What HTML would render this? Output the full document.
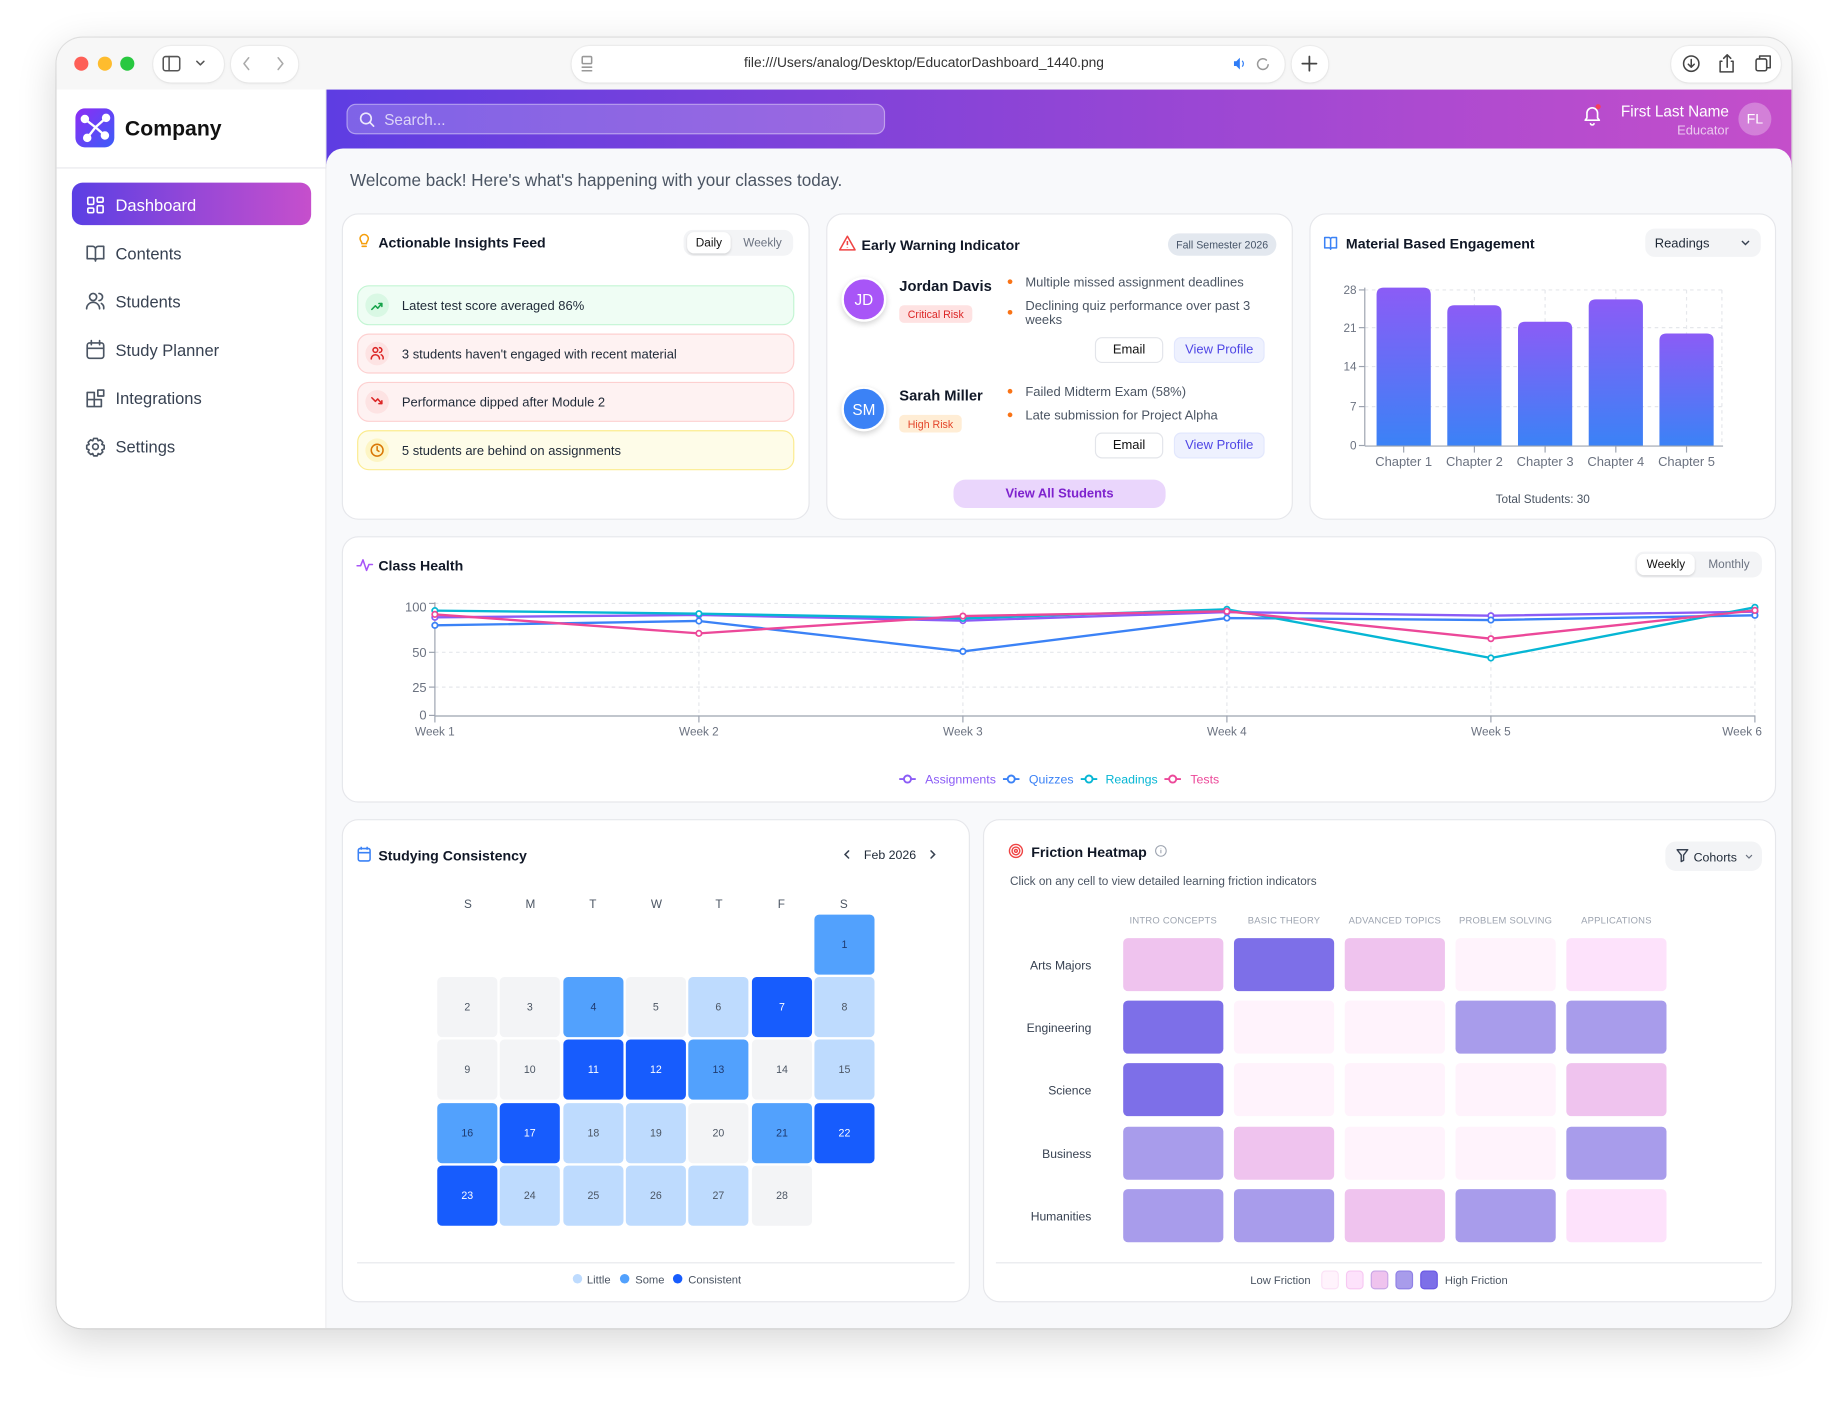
<!DOCTYPE html>
<html><head><meta charset="utf-8">
<style>
*{box-sizing:border-box;}
html,body{margin:0;padding:0;background:#fff;width:1848px;height:1402px;overflow:hidden;}
#root{position:absolute;left:0;top:0;width:1568px;height:1190px;transform:scale(1.178571);transform-origin:0 0;font-family:"Liberation Sans",Arial,sans-serif;color:#111827;}
.win{position:absolute;left:48px;top:32px;width:1472px;height:1095px;border-radius:22px;overflow:hidden;background:#fff;box-shadow:0 0 0 1px rgba(0,0,0,.10),0 10px 34px rgba(0,0,0,.16);}
.in{position:absolute;left:-48px;top:-32px;width:1568px;height:1190px;}
.a{position:absolute;}
.t{position:absolute;white-space:nowrap;line-height:20px;height:20px;margin-top:1px;}
.card{position:absolute;background:#fff;border:1px solid #e6e7eb;border-radius:14px;}
.pill{position:absolute;background:#fff;border-radius:15px;box-shadow:0 0 0 1px rgba(0,0,0,.03),0 1px 3px rgba(0,0,0,.06);}
.nav{position:absolute;left:98px;font-size:14px;color:#374151;white-space:nowrap;line-height:20px;}
.item{position:absolute;left:303px;width:371px;height:34px;border-radius:10px;border:1.5px solid;}
.ic{position:absolute;left:310px;width:20px;height:20px;border-radius:50%;}
.itx{position:absolute;left:341px;font-size:11px;color:#1f2937;line-height:20px;white-space:nowrap;margin-top:1px;}
.btn{position:absolute;height:22px;border-radius:6px;font-size:11px;display:flex;align-items:center;justify-content:center;}
.bul{position:absolute;font-size:11px;color:#4b5563;line-height:12px;white-space:nowrap;}
.dot{position:absolute;width:4px;height:4px;border-radius:50%;background:#f97316;}
</style></head><body><div id="root"><div class="win"><div class="in">

<!-- chrome -->
<div class="a" style="left:48px;top:32px;width:1472px;height:44px;background:#f7f7f7;"></div>
<div class="a" style="left:63px;top:48px;width:12px;height:12px;border-radius:50%;background:#fe5f57;"></div>
<div class="a" style="left:83px;top:48px;width:12px;height:12px;border-radius:50%;background:#febc2e;"></div>
<div class="a" style="left:102px;top:48px;width:12px;height:12px;border-radius:50%;background:#28c840;"></div>
<div class="pill" style="left:130px;top:39px;width:60px;height:31px;"></div>
<div class="pill" style="left:196px;top:39px;width:57px;height:31px;"></div>
<div class="pill" style="left:485px;top:39px;width:605px;height:31px;"></div>
<div class="pill" style="left:1096px;top:39px;width:31px;height:31px;"></div>
<div class="pill" style="left:1418px;top:39px;width:93px;height:31px;"></div>
<div class="t" style="left:584px;width:400px;text-align:center;top:43px;font-size:11.7px;color:#333;">file:///Users/analog/Desktop/EducatorDashboard_1440.png</div>

<!-- sidebar -->
<div class="a" style="left:48px;top:76px;width:229px;height:1051px;background:#fff;border-right:1px solid #ececef;"></div>
<div class="a" style="left:64px;top:92px;width:33px;height:33px;border-radius:8px;background:linear-gradient(135deg,#8e2cf4,#3a5cf8);"></div>
<div class="t" style="left:106px;top:98px;font-size:18px;font-weight:bold;color:#111;">Company</div>
<div class="a" style="left:48px;top:142px;width:229px;height:1px;background:#e8e8ec;"></div>
<div class="a" style="left:61px;top:155px;width:203px;height:36px;border-radius:9px;background:linear-gradient(90deg,#5a3fe4,#9a48d6 55%,#c64fcc);"></div>
<div class="nav" style="top:164px;color:#fff;">Dashboard</div>
<div class="nav" style="top:205px;">Contents</div>
<div class="nav" style="top:246px;">Students</div>
<div class="nav" style="top:287px;">Study Planner</div>
<div class="nav" style="top:328px;">Integrations</div>
<div class="nav" style="top:369px;">Settings</div>

<!-- header -->
<div class="a" style="left:277px;top:76px;width:1243px;height:66px;background:linear-gradient(90deg,#5e3de2 0%,#8a44d7 45%,#b24bcf 80%,#c44fca 100%);"></div>
<div class="a" style="left:277px;top:126px;width:1243px;height:1001px;background:#f8f9fb;border-radius:14px 14px 0 0;"></div>
<div class="a" style="left:294px;top:88px;width:457px;height:26px;border-radius:8px;background:rgba(255,255,255,.2);border:1px solid rgba(255,255,255,.38);"></div>
<div class="t" style="left:326px;top:91px;font-size:13px;color:rgba(255,255,255,.72);">Search...</div>
<div class="t" style="right:101px;top:84px;font-size:13px;color:#fff;">First Last Name</div>
<div class="t" style="right:101px;top:100px;font-size:11px;color:rgba(255,255,255,.7);">Educator</div>
<div class="a" style="left:1475px;top:87px;width:28px;height:28px;border-radius:50%;background:rgba(255,255,255,.28);color:#fff;font-size:12px;display:flex;align-items:center;justify-content:center;">FL</div>

<div class="t" style="left:297px;top:143px;font-size:14.5px;color:#4b5563;">Welcome back! Here's what's happening with your classes today.</div>

<!-- card 1 -->
<div class="card" style="left:290px;top:181px;width:397px;height:260px;"></div>
<div class="t" style="left:321px;top:195px;font-size:12px;font-weight:bold;">Actionable Insights Feed</div>
<div class="a" style="left:580px;top:195px;width:93px;height:22px;border-radius:8px;background:#f3f4f6;"></div>
<div class="a" style="left:583px;top:197px;width:37px;height:18px;border-radius:6px;background:#fff;box-shadow:0 1px 2px rgba(0,0,0,.12);font-size:10px;color:#111;display:flex;align-items:center;justify-content:center;">Daily</div>
<div class="t" style="left:622px;width:50px;text-align:center;top:196px;font-size:10px;color:#6b7280;">Weekly</div>

<div class="item" style="top:242px;background:#effdf4;border-color:#c3f5d3;"></div>
<div class="ic" style="top:249px;background:#d9f8e4;"></div>
<div class="itx" style="top:249px;">Latest test score averaged 86%</div>
<div class="item" style="top:283px;background:#fef2f2;border-color:#fdd0d0;"></div>
<div class="ic" style="top:290px;background:#fde3e3;"></div>
<div class="itx" style="top:290px;">3 students haven't engaged with recent material</div>
<div class="item" style="top:324px;background:#fef2f2;border-color:#fdd0d0;"></div>
<div class="ic" style="top:331px;background:#fde3e3;"></div>
<div class="itx" style="top:331px;">Performance dipped after Module 2</div>
<div class="item" style="top:365px;background:#fefce8;border-color:#fbeb8f;"></div>
<div class="ic" style="top:372px;background:#fdf5c4;"></div>
<div class="itx" style="top:372px;">5 students are behind on assignments</div>

<!-- card 2 -->
<div class="card" style="left:701px;top:181px;width:396px;height:260px;"></div>
<div class="t" style="left:731px;top:197px;font-size:12px;font-weight:bold;">Early Warning Indicator</div>
<div class="a" style="left:991px;top:198px;width:92px;height:19px;border-radius:10px;background:#e3e8ef;font-size:9px;color:#475569;display:flex;align-items:center;justify-content:center;">Fall Semester 2026</div>
<div class="a" style="left:714px;top:235px;width:38px;height:38px;border-radius:50%;background:#a855f7;border:2px solid #fff;box-shadow:0 2px 5px rgba(0,0,0,.18);color:#fff;font-size:13px;display:flex;align-items:center;justify-content:center;">JD</div>
<div class="t" style="left:763px;top:232px;font-size:12.5px;font-weight:bold;">Jordan Davis</div>
<div class="a" style="left:763px;top:259px;width:62px;height:15px;border-radius:4px;background:#fee2e2;color:#dc2626;font-size:9px;display:flex;align-items:center;justify-content:center;">Critical Risk</div>
<div class="dot" style="left:855px;top:237px;"></div>
<div class="bul" style="left:870px;top:234px;">Multiple missed assignment deadlines</div>
<div class="dot" style="left:855px;top:263px;"></div>
<div class="bul" style="left:870px;top:254px;">Declining quiz performance over past 3</div>
<div class="bul" style="left:870px;top:266px;">weeks</div>
<div class="btn" style="left:929px;top:286px;width:58px;background:#fff;border:1px solid #e3e5ea;color:#111;">Email</div>
<div class="btn" style="left:996px;top:286px;width:77px;background:#eef1fe;border:1px solid #e2e7fd;color:#4f46e5;">View Profile</div>

<div class="a" style="left:714px;top:328px;width:38px;height:38px;border-radius:50%;background:#3b82f6;border:2px solid #fff;box-shadow:0 2px 5px rgba(0,0,0,.18);color:#fff;font-size:13px;display:flex;align-items:center;justify-content:center;">SM</div>
<div class="t" style="left:763px;top:325px;font-size:12.5px;font-weight:bold;">Sarah Miller</div>
<div class="a" style="left:763px;top:352px;width:53px;height:15px;border-radius:4px;background:#ffedd5;color:#e4452a;font-size:9px;display:flex;align-items:center;justify-content:center;">High Risk</div>
<div class="dot" style="left:855px;top:330px;"></div>
<div class="bul" style="left:870px;top:327px;">Failed Midterm Exam (58%)</div>
<div class="dot" style="left:855px;top:350px;"></div>
<div class="bul" style="left:870px;top:347px;">Late submission for Project Alpha</div>
<div class="btn" style="left:929px;top:367px;width:58px;background:#fff;border:1px solid #e3e5ea;color:#111;">Email</div>
<div class="btn" style="left:996px;top:367px;width:77px;background:#eef1fe;border:1px solid #e2e7fd;color:#4f46e5;">View Profile</div>
<div class="a" style="left:809px;top:407px;width:180px;height:24px;border-radius:10px;background:#ead6fc;color:#7e22ce;font-size:11px;font-weight:bold;display:flex;align-items:center;justify-content:center;">View All Students</div>

<!-- card 3 -->
<div class="card" style="left:1111px;top:181px;width:396px;height:260px;"></div>
<div class="t" style="left:1142px;top:196px;font-size:12px;font-weight:bold;">Material Based Engagement</div>
<div class="a" style="left:1396px;top:194px;width:98px;height:24px;border-radius:8px;background:#f3f4f6;"></div>
<div class="t" style="left:1404px;top:196px;font-size:11px;color:#1f2937;">Readings</div>

<!-- class health -->
<div class="card" style="left:290px;top:455px;width:1217px;height:226px;"></div>
<div class="t" style="left:321px;top:469px;font-size:12px;font-weight:bold;">Class Health</div>
<div class="a" style="left:1387px;top:468px;width:108px;height:22px;border-radius:8px;background:#f3f4f6;"></div>
<div class="a" style="left:1389px;top:470px;width:49px;height:18px;border-radius:6px;background:#fff;box-shadow:0 1px 2px rgba(0,0,0,.12);font-size:10px;color:#111;display:flex;align-items:center;justify-content:center;">Weekly</div>
<div class="t" style="left:1441px;width:52px;text-align:center;top:469px;font-size:10px;color:#6b7280;">Monthly</div>

<!-- studying -->
<div class="card" style="left:290px;top:695px;width:533px;height:410px;"></div>
<div class="t" style="left:321px;top:715px;font-size:12px;font-weight:bold;">Studying Consistency</div>
<div class="t" style="left:733px;top:715px;font-size:10.5px;color:#1f2937;">Feb 2026</div>

<!-- friction -->
<div class="card" style="left:834px;top:695px;width:673px;height:410px;"></div>
<div class="t" style="left:875px;top:712px;font-size:12px;font-weight:bold;">Friction Heatmap</div>
<div class="t" style="left:857px;top:738px;font-size:10px;color:#4b5563;">Click on any cell to view detailed learning friction indicators</div>
<div class="a" style="left:1413px;top:714px;width:82px;height:25px;border-radius:9px;background:#f3f4f6;"></div>
<div class="t" style="left:1437px;top:717px;font-size:10.5px;color:#1f2937;">Cohorts</div>

<svg class="a" style="left:0;top:0;" width="1568" height="1190" viewBox="0 0 1568 1190" font-family="Liberation Sans, Arial, sans-serif">
<defs>
<linearGradient id="bg" x1="0" y1="0" x2="0" y2="1"><stop offset="0" stop-color="#8b5cf6"/><stop offset="1" stop-color="#3b82f6"/></linearGradient>
</defs>
<!-- chrome icons -->
<g fill="none" stroke="#555" stroke-width="1.3" stroke-linecap="round" stroke-linejoin="round">
<rect x="138.5" y="48" width="14" height="12" rx="2"/><line x1="143.5" y1="48" x2="143.5" y2="60"/>
<path d="M167,52 l3,3 l3,-3"/>
<path d="M211,49 l-4,5 l4,5" stroke="#aaa"/><path d="M236,49 l4,5 l-4,5" stroke="#aaa"/>
<rect x="494" y="48" width="8" height="6" rx="1" stroke="#999"/><path d="M494,57 h8 M494,60 h8" stroke="#999"/>
<path d="M1074.5,51 a4.5,4.5 0 1 0 1.5,4" stroke="#999"/>
<path d="M1111,48 v12 M1105,54 h12" stroke="#444" stroke-width="1.5"/>
<circle cx="1435" cy="54" r="6.5" stroke="#444"/><path d="M1435,50.5 v6 M1432.5,54.5 l2.5,2.5 l2.5,-2.5" stroke="#444"/>
<path d="M1461,52 h-1.5 v9 h11 v-9 h-1.5 M1465.5,57 v-10 M1462.5,49.5 l3,-3 l3,3" stroke="#444"/>
<rect x="1490" y="50" width="9" height="10" rx="1.5" stroke="#444"/><path d="M1493,50 v-2.5 h9 v10 h-3" stroke="#444"/>
</g>
<path d="M1047,52 h2 l3,-3 v10 l-3,-3 h-2z" fill="#2f7cf6"/><path d="M1054,51.5 q2,2.5 0,5" stroke="#2f7cf6" fill="none" stroke-width="1"/>
<!-- logo -->
<g stroke="#fff" stroke-width="2" fill="#fff">
<line x1="72" y1="101" x2="81" y2="108"/><line x1="90" y1="100" x2="81" y2="108"/><line x1="81" y1="108" x2="74" y2="117"/><line x1="81" y1="108" x2="89" y2="115"/>
<circle cx="72" cy="101" r="2.6"/><circle cx="90" cy="100" r="2.6"/><circle cx="74" cy="117" r="2.6"/><circle cx="89" cy="115" r="2.6"/>
</g>
<!-- nav icons -->
<g fill="none" stroke="#fff" stroke-width="1.4" stroke-linejoin="round">
<rect x="74.5" y="167.5" width="5" height="6" rx="1"/><rect x="82.5" y="167.5" width="5" height="4" rx="1"/><rect x="74.5" y="176.5" width="5" height="4" rx="1"/><rect x="82.5" y="174.5" width="5" height="6" rx="1"/>
</g>
<g fill="none" stroke="#4b5563" stroke-width="1.4" stroke-linejoin="round" stroke-linecap="round">
<path d="M74,209 h4.5 a2.5,2.5 0 0 1 2.5,2.5 v10 a2,2 0 0 0 -2,-2 h-5z M88,209 h-4.5 a2.5,2.5 0 0 0 -2.5,2.5 v10 a2,2 0 0 1 2,-2 h5z"/>
<circle cx="79" cy="252" r="3"/><path d="M73.5,262 a5.5,5.5 0 0 1 11,0 M84,249 a3,3 0 0 1 0,6 M86,257.5 a4.5,4.5 0 0 1 2,4.5"/>
<rect x="74" y="291" width="14" height="13" rx="2"/><path d="M74,295.5 h14 M77.5,289 v3.5 M84.5,289 v3.5"/>
<path d="M74,333 h6 v12 h-6z M74,339 h12 v6 h-6 M83,331 h5 v5 h-5z"/>
<circle cx="81" cy="379" r="2.4"/><path d="M79.5,372 h3 l.8,2 1.8,-.8 2.1,2.1 -.8,1.8 2,.8 v3 l-2,.8 .8,1.8 -2.1,2.1 -1.8,-.8 -.8,2 h-3 l-.8,-2 -1.8,.8 -2.1,-2.1 .8,-1.8 -2,-.8 v-3 l2,-.8 -.8,-1.8 2.1,-2.1 1.8,.8z"/>
</g>
<!-- header icons -->
<g fill="none" stroke="rgba(255,255,255,.85)" stroke-width="1.4" stroke-linecap="round">
<circle cx="310.5" cy="100.5" r="4.5"/><path d="M314,104 l3,3"/>
</g>
<g fill="none" stroke="#fff" stroke-width="1.4" stroke-linecap="round" stroke-linejoin="round">
<path d="M1345,102 h12 l-1.5,-2 v-4 a4.5,4.5 0 0 0 -9,0 v4z M1349.5,105 a1.6,1.6 0 0 0 3,0"/>
</g>
<circle cx="1356" cy="90.5" r="2.2" fill="#f43f5e"/>
<!-- card1 icons -->
<g fill="none" stroke="#f59e0b" stroke-width="1.3" stroke-linecap="round">
<path d="M305.5,202.5 a3.5,3.5 0 1 1 7,0 c0,1.8 -1.5,2.4 -1.6,4.2 h-3.8 c-.1,-1.8 -1.6,-2.4 -1.6,-4.2z M307.3,209 h3.4"/>
</g>
<g fill="none" stroke-width="1.3" stroke-linecap="round" stroke-linejoin="round">
<path d="M315.5,262.5 l3,-3 2,2 3.5,-4 M321.5,257.5 h2.5 v2.5" stroke="#16a34a"/>
<circle cx="318.5" cy="297" r="2" stroke="#dc2626"/><path d="M315,304.5 a3.5,3.5 0 0 1 7,0 M322,295 a2,2 0 0 1 0,4 M323.5,301 a3,3 0 0 1 1.5,3.5" stroke="#dc2626"/>
<path d="M315.5,337.5 l3,3 2,-2 3.5,4 M321.5,342.5 h2.5 v-2.5" stroke="#dc2626"/>
<circle cx="320" cy="382" r="5" stroke="#d97706"/><path d="M320,379 v3 l1.5,1" stroke="#d97706"/>
</g>
<!-- card2 icon -->
<path d="M719,200.5 L725.5,212 H712.5 Z" stroke="#ef4444" fill="none" stroke-width="1.3" stroke-linejoin="round"/>
<path d="M719,204.5 v3.5 M719,209.6 v.4" stroke="#ef4444" stroke-width="1.3"/>
<!-- card3 icon -->
<path d="M1124,201.5 h3.5 a1.5,1.5 0 0 1 1.5,1.5 v8.5 a1.2,1.2 0 0 0 -1.2,-1.2 h-3.8z M1134,201.5 h-3.5 a1.5,1.5 0 0 0 -1.5,1.5 v8.5 a1.2,1.2 0 0 1 1.2,-1.2 h3.8z" stroke="#3b82f6" fill="none" stroke-width="1.3" stroke-linejoin="round"/>
<path d="M1478,204.5 l3,3 l3,-3" stroke="#374151" fill="none" stroke-width="1.2"/>
<!-- bar chart -->
<g stroke="#e5e7eb" stroke-dasharray="3 3" stroke-width="1">
<line x1="1158" y1="246" x2="1462" y2="246"/><line x1="1158" y1="278" x2="1462" y2="278"/><line x1="1158" y1="311" x2="1462" y2="311"/><line x1="1158" y1="345" x2="1462" y2="345"/>
<line x1="1191" y1="246" x2="1191" y2="378"/><line x1="1251" y1="246" x2="1251" y2="378"/><line x1="1311" y1="246" x2="1311" y2="378"/><line x1="1371" y1="246" x2="1371" y2="378"/><line x1="1431" y1="246" x2="1431" y2="378"/><line x1="1461" y1="246" x2="1461" y2="378"/>
</g>
<path d="M1168,378 V250 Q1168,244 1174,244 H1208 Q1214,244 1214,250 V378Z" fill="url(#bg)"/>
<path d="M1228,378 V265 Q1228,259 1234,259 H1268 Q1274,259 1274,265 V378Z" fill="url(#bg)"/>
<path d="M1288,378 V279 Q1288,273 1294,273 H1328 Q1334,273 1334,279 V378Z" fill="url(#bg)"/>
<path d="M1348,378 V260 Q1348,254 1354,254 H1388 Q1394,254 1394,260 V378Z" fill="url(#bg)"/>
<path d="M1408,378 V289 Q1408,283 1414,283 H1448 Q1454,283 1454,289 V378Z" fill="url(#bg)"/>
<g stroke="#9ca3af" stroke-width="1">
<line x1="1158" y1="244" x2="1158" y2="378"/><line x1="1158" y1="378.5" x2="1462" y2="378.5"/>
<line x1="1153" y1="246" x2="1158" y2="246"/><line x1="1153" y1="278" x2="1158" y2="278"/><line x1="1153" y1="311" x2="1158" y2="311"/><line x1="1153" y1="345" x2="1158" y2="345"/><line x1="1153" y1="378" x2="1158" y2="378"/>
<line x1="1191" y1="378" x2="1191" y2="384"/><line x1="1251" y1="378" x2="1251" y2="384"/><line x1="1311" y1="378" x2="1311" y2="384"/><line x1="1371" y1="378" x2="1371" y2="384"/><line x1="1431" y1="378" x2="1431" y2="384"/>
</g>
<g font-size="10" fill="#6b7280" text-anchor="end">
<text x="1151" y="249.5">28</text><text x="1151" y="281.5">21</text><text x="1151" y="314.5">14</text><text x="1151" y="348.5">7</text><text x="1151" y="381.5">0</text>
</g>
<g font-size="11" fill="#6b7280" text-anchor="middle">
<text x="1191" y="395.5">Chapter 1</text><text x="1251" y="395.5">Chapter 2</text><text x="1311" y="395.5">Chapter 3</text><text x="1371" y="395.5">Chapter 4</text><text x="1431" y="395.5">Chapter 5</text>
</g>
<text x="1309" y="427" font-size="10" fill="#4b5563" text-anchor="middle">Total Students: 30</text>

<!-- class health -->
<path d="M303,480 h3 l2,-5 l3,9 l2,-5 h3" stroke="#a855f7" fill="none" stroke-width="1.3" stroke-linejoin="round" stroke-linecap="round"/>
<g stroke="#e5e7eb" stroke-dasharray="3 3" stroke-width="1">
<line x1="369" y1="512" x2="1489" y2="512"/><line x1="369" y1="553.5" x2="1489" y2="553.5"/><line x1="369" y1="583" x2="1489" y2="583"/>
<line x1="593" y1="512" x2="593" y2="607"/><line x1="817" y1="512" x2="817" y2="607"/><line x1="1041" y1="512" x2="1041" y2="607"/><line x1="1265" y1="512" x2="1265" y2="607"/><line x1="1489" y1="512" x2="1489" y2="607"/>
</g>
<g stroke="#9ca3af" stroke-width="1">
<line x1="369" y1="511" x2="369" y2="607"/><line x1="369" y1="607.5" x2="1489" y2="607.5"/>
<line x1="364" y1="512" x2="369" y2="512"/><line x1="364" y1="553.5" x2="369" y2="553.5"/><line x1="364" y1="583" x2="369" y2="583"/><line x1="364" y1="607" x2="369" y2="607"/>
<line x1="369" y1="607" x2="369" y2="613"/><line x1="593" y1="607" x2="593" y2="613"/><line x1="817" y1="607" x2="817" y2="613"/><line x1="1041" y1="607" x2="1041" y2="613"/><line x1="1265" y1="607" x2="1265" y2="613"/><line x1="1489" y1="607" x2="1489" y2="613"/>
</g>
<g font-size="11" fill="#6b7280" text-anchor="end">
<text x="362" y="519">100</text><text x="362" y="557.5">50</text><text x="362" y="587">25</text><text x="362" y="610.5">0</text>
</g>
<g font-size="10" fill="#6b7280" text-anchor="middle">
<text x="369" y="624">Week 1</text><text x="593" y="624">Week 2</text><text x="817" y="624">Week 3</text><text x="1041" y="624">Week 4</text><text x="1265" y="624">Week 5</text><text x="1495" y="624" text-anchor="end">Week 6</text>
</g>
<g fill="none" stroke-width="2" stroke-linejoin="round">
<polyline points="369,523.8 593,521.8 817,526.6 1041,519.3 1265,522.4 1489,519" stroke="#8b5cf6"/>
<polyline points="369,530.6 593,526.9 817,552.7 1041,524.4 1265,526.1 1489,522.1" stroke="#3b82f6"/>
<polyline points="369,518.1 593,520.7 817,524.7 1041,517 1265,558.3 1489,515.3" stroke="#06b6d4"/>
<polyline points="369,521.3 593,537.4 817,522.7 1041,518.7 1265,541.9 1489,517.9" stroke="#ec4899"/>
</g>
<g fill="#fff" stroke-width="1.5">
<g stroke="#8b5cf6"><circle cx="369" cy="523.8" r="2.3"/><circle cx="593" cy="521.8" r="2.3"/><circle cx="817" cy="526.6" r="2.3"/><circle cx="1041" cy="519.3" r="2.3"/><circle cx="1265" cy="522.4" r="2.3"/><circle cx="1489" cy="519" r="2.3"/></g>
<g stroke="#3b82f6"><circle cx="369" cy="530.6" r="2.3"/><circle cx="593" cy="526.9" r="2.3"/><circle cx="817" cy="552.7" r="2.3"/><circle cx="1041" cy="524.4" r="2.3"/><circle cx="1265" cy="526.1" r="2.3"/><circle cx="1489" cy="522.1" r="2.3"/></g>
<g stroke="#06b6d4"><circle cx="369" cy="518.1" r="2.3"/><circle cx="593" cy="520.7" r="2.3"/><circle cx="817" cy="524.7" r="2.3"/><circle cx="1041" cy="517" r="2.3"/><circle cx="1265" cy="558.3" r="2.3"/><circle cx="1489" cy="515.3" r="2.3"/></g>
<g stroke="#ec4899"><circle cx="369" cy="521.3" r="2.3"/><circle cx="593" cy="537.4" r="2.3"/><circle cx="817" cy="522.7" r="2.3"/><circle cx="1041" cy="518.7" r="2.3"/><circle cx="1265" cy="541.9" r="2.3"/><circle cx="1489" cy="517.9" r="2.3"/></g>
</g>
<g stroke-width="1.6" fill="#fff" font-size="10.5">
<line x1="763" y1="661" x2="777" y2="661" stroke="#8b5cf6"/><circle cx="770" cy="661" r="3" stroke="#8b5cf6"/><text x="785" y="665" fill="#8b5cf6" stroke="none">Assignments</text>
<line x1="851" y1="661" x2="865" y2="661" stroke="#3b82f6"/><circle cx="858" cy="661" r="3" stroke="#3b82f6"/><text x="873" y="665" fill="#3b82f6" stroke="none">Quizzes</text>
<line x1="917" y1="661" x2="931" y2="661" stroke="#06b6d4"/><circle cx="924" cy="661" r="3" stroke="#06b6d4"/><text x="938" y="665" fill="#06b6d4" stroke="none">Readings</text>
<line x1="988" y1="661" x2="1002" y2="661" stroke="#ec4899"/><circle cx="995" cy="661" r="3" stroke="#ec4899"/><text x="1010" y="665" fill="#ec4899" stroke="none">Tests</text>
</g>

<!-- studying consistency -->
<g fill="none" stroke="#3b82f6" stroke-width="1.3"><rect x="304" y="720" width="10" height="10.5" rx="1.5"/><path d="M304,723.5 h10 M306.5,718.5 v2.5 M311.5,718.5 v2.5"/></g>
<g fill="none" stroke="#374151" stroke-width="1.3" stroke-linecap="round"><path d="M720,722 l-3,3 l3,3 M790,722 l3,3 l-3,3"/></g>
<g font-size="10" fill="#4b5563" text-anchor="middle">
<text x="397" y="770.5">S</text><text x="450" y="770.5">M</text><text x="503" y="770.5">T</text><text x="557" y="770.5">W</text><text x="610" y="770.5">T</text><text x="663" y="770.5">F</text><text x="716" y="770.5">S</text>
</g>
<g>
<rect x="691" y="776" width="51" height="51" rx="4" fill="#52a1fd"/>
<rect x="371" y="829" width="51" height="51" rx="4" fill="#f3f4f6"/>
<rect x="424" y="829" width="51" height="51" rx="4" fill="#f3f4f6"/>
<rect x="478" y="829" width="51" height="51" rx="4" fill="#52a1fd"/>
<rect x="531" y="829" width="51" height="51" rx="4" fill="#f3f4f6"/>
<rect x="584" y="829" width="51" height="51" rx="4" fill="#bedbfe"/>
<rect x="638" y="829" width="51" height="51" rx="4" fill="#175cfd"/>
<rect x="691" y="829" width="51" height="51" rx="4" fill="#bedbfe"/>
<rect x="371" y="882" width="51" height="51" rx="4" fill="#f3f4f6"/>
<rect x="424" y="882" width="51" height="51" rx="4" fill="#f3f4f6"/>
<rect x="478" y="882" width="51" height="51" rx="4" fill="#175cfd"/>
<rect x="531" y="882" width="51" height="51" rx="4" fill="#175cfd"/>
<rect x="584" y="882" width="51" height="51" rx="4" fill="#52a1fd"/>
<rect x="638" y="882" width="51" height="51" rx="4" fill="#f3f4f6"/>
<rect x="691" y="882" width="51" height="51" rx="4" fill="#bedbfe"/>
<rect x="371" y="936" width="51" height="51" rx="4" fill="#52a1fd"/>
<rect x="424" y="936" width="51" height="51" rx="4" fill="#175cfd"/>
<rect x="478" y="936" width="51" height="51" rx="4" fill="#bedbfe"/>
<rect x="531" y="936" width="51" height="51" rx="4" fill="#bedbfe"/>
<rect x="584" y="936" width="51" height="51" rx="4" fill="#f3f4f6"/>
<rect x="638" y="936" width="51" height="51" rx="4" fill="#52a1fd"/>
<rect x="691" y="936" width="51" height="51" rx="4" fill="#175cfd"/>
<rect x="371" y="989" width="51" height="51" rx="4" fill="#175cfd"/>
<rect x="424" y="989" width="51" height="51" rx="4" fill="#bedbfe"/>
<rect x="478" y="989" width="51" height="51" rx="4" fill="#bedbfe"/>
<rect x="531" y="989" width="51" height="51" rx="4" fill="#bedbfe"/>
<rect x="584" y="989" width="51" height="51" rx="4" fill="#bedbfe"/>
<rect x="638" y="989" width="51" height="51" rx="4" fill="#f3f4f6"/>
</g>
<g font-size="9" fill="#4b5563" text-anchor="middle">
<text x="716.5" y="804.5" fill="#1f3a6e">1</text>
<text x="396.5" y="857.5">2</text><text x="449.5" y="857.5">3</text><text x="503.5" y="857.5" fill="#1f3a6e">4</text><text x="556.5" y="857.5">5</text><text x="609.5" y="857.5">6</text><text x="663.5" y="857.5" fill="#fff">7</text><text x="716.5" y="857.5">8</text>
<text x="396.5" y="910.5">9</text><text x="449.5" y="910.5">10</text><text x="503.5" y="910.5" fill="#fff">11</text><text x="556.5" y="910.5" fill="#fff">12</text><text x="609.5" y="910.5" fill="#1f3a6e">13</text><text x="663.5" y="910.5">14</text><text x="716.5" y="910.5">15</text>
<text x="396.5" y="964.5" fill="#1f3a6e">16</text><text x="449.5" y="964.5" fill="#fff">17</text><text x="503.5" y="964.5">18</text><text x="556.5" y="964.5">19</text><text x="609.5" y="964.5">20</text><text x="663.5" y="964.5" fill="#1f3a6e">21</text><text x="716.5" y="964.5" fill="#fff">22</text>
<text x="396.5" y="1017.5" fill="#fff">23</text><text x="449.5" y="1017.5">24</text><text x="503.5" y="1017.5">25</text><text x="556.5" y="1017.5">26</text><text x="609.5" y="1017.5">27</text><text x="663.5" y="1017.5">28</text>
</g>
<line x1="303" y1="1071.5" x2="810" y2="1071.5" stroke="#e5e7eb" stroke-width="1"/>
<circle cx="490" cy="1085" r="4" fill="#bedbfe"/><circle cx="530" cy="1085" r="4" fill="#52a1fd"/><circle cx="575" cy="1085" r="4" fill="#175cfd"/>
<g font-size="9.5" fill="#4b5563"><text x="498" y="1089">Little</text><text x="539" y="1089">Some</text><text x="584" y="1089">Consistent</text></g>

<!-- friction heatmap -->
<g fill="none" stroke="#ef4444" stroke-width="1.2"><circle cx="862" cy="722" r="5.5"/><circle cx="862" cy="722" r="3.3"/><circle cx="862" cy="722" r="1.2"/></g>
<g fill="none" stroke="#9ca3af" stroke-width="0.9"><circle cx="985" cy="722" r="4.5"/><path d="M985,721 v3 M985,719.5 v.3"/></g>
<path d="M1423,721 h9 l-3.5,4.5 v4.5 l-2,1 v-5.5z" fill="none" stroke="#374151" stroke-width="1.2" stroke-linejoin="round"/>
<path d="M1481.5,725.5 l2.5,2.5 l2.5,-2.5" fill="none" stroke="#6b7280" stroke-width="1"/>
<g font-size="8" fill="#9ca3af" text-anchor="middle" letter-spacing="0.2">
<text x="995.5" y="783.5">INTRO CONCEPTS</text><text x="1089.5" y="783.5">BASIC THEORY</text><text x="1183.5" y="783.5">ADVANCED TOPICS</text><text x="1277.5" y="783.5">PROBLEM SOLVING</text><text x="1371.5" y="783.5">APPLICATIONS</text>
</g>
<g font-size="10.3" fill="#374151" text-anchor="end">
<text x="926" y="822.5">Arts Majors</text><text x="926" y="875.5">Engineering</text><text x="926" y="928.5">Science</text><text x="926" y="982.5">Business</text><text x="926" y="1035.5">Humanities</text>
</g>
<g>
<rect x="953" y="796" width="85" height="45" rx="4" fill="#efc3ee"/><rect x="1047" y="796" width="85" height="45" rx="4" fill="#7d6fe8"/><rect x="1141" y="796" width="85" height="45" rx="4" fill="#efc3ee"/><rect x="1235" y="796" width="85" height="45" rx="4" fill="#fff3fc"/><rect x="1329" y="796" width="85" height="45" rx="4" fill="#fde2fb"/>
<rect x="953" y="849" width="85" height="45" rx="4" fill="#7d6fe8"/><rect x="1047" y="849" width="85" height="45" rx="4" fill="#fff3fc"/><rect x="1141" y="849" width="85" height="45" rx="4" fill="#fff3fc"/><rect x="1235" y="849" width="85" height="45" rx="4" fill="#a89ceb"/><rect x="1329" y="849" width="85" height="45" rx="4" fill="#a89ceb"/>
<rect x="953" y="902" width="85" height="45" rx="4" fill="#7d6fe8"/><rect x="1047" y="902" width="85" height="45" rx="4" fill="#fff3fc"/><rect x="1141" y="902" width="85" height="45" rx="4" fill="#fff3fc"/><rect x="1235" y="902" width="85" height="45" rx="4" fill="#fff3fc"/><rect x="1329" y="902" width="85" height="45" rx="4" fill="#efc3ee"/>
<rect x="953" y="956" width="85" height="45" rx="4" fill="#a89ceb"/><rect x="1047" y="956" width="85" height="45" rx="4" fill="#efc3ee"/><rect x="1141" y="956" width="85" height="45" rx="4" fill="#fff3fc"/><rect x="1235" y="956" width="85" height="45" rx="4" fill="#fff3fc"/><rect x="1329" y="956" width="85" height="45" rx="4" fill="#a89ceb"/>
<rect x="953" y="1009" width="85" height="45" rx="4" fill="#a89ceb"/><rect x="1047" y="1009" width="85" height="45" rx="4" fill="#a89ceb"/><rect x="1141" y="1009" width="85" height="45" rx="4" fill="#efc3ee"/><rect x="1235" y="1009" width="85" height="45" rx="4" fill="#a89ceb"/><rect x="1329" y="1009" width="85" height="45" rx="4" fill="#fde2fb"/>
</g>
<line x1="845" y1="1071.5" x2="1495" y2="1071.5" stroke="#e5e7eb" stroke-width="1"/>
<text x="1112" y="1089.5" font-size="9.5" fill="#4b5563" text-anchor="end">Low Friction</text>
<rect x="1121.5" y="1078.5" width="14" height="15" rx="3" fill="#fff3fc" stroke="#fbe1f6"/>
<rect x="1142.5" y="1078.5" width="14" height="15" rx="3" fill="#fde2fb" stroke="#f7c8f2"/>
<rect x="1163.5" y="1078.5" width="14" height="15" rx="3" fill="#efc3ee" stroke="#c9a6e6"/>
<rect x="1184.5" y="1078.5" width="14" height="15" rx="3" fill="#a89ceb" stroke="#8f80e6"/>
<rect x="1205.5" y="1078.5" width="14" height="15" rx="3" fill="#7d6fe8" stroke="#6a58e4"/>
<text x="1226" y="1089.5" font-size="9.5" fill="#4b5563">High Friction</text>
</svg>
</div></div></div></body></html>
